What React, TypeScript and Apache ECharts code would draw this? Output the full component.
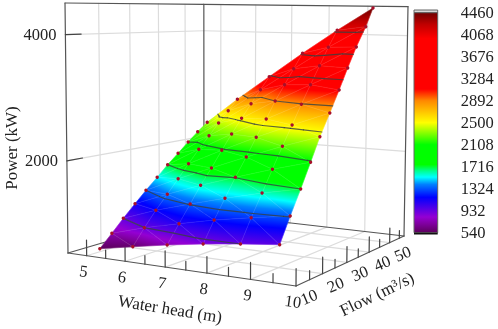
import React, { useEffect, useRef } from "react";
import * as echarts from "echarts";

// ---- data ----
const headGrid = [
  [4.82, 5.46, 6.60, 7.60, 8.45, 9.24],
  [4.83, 5.85, 6.80, 7.63, 8.44, 9.25],
  [4.84, 5.84, 6.79, 7.60, 8.41, 9.33],
  [4.85, 5.91, 6.77, 7.44, 8.42, 9.36],
  [4.92, 5.87, 6.76, 7.59, 8.41, 9.24],
  [5.01, 5.96, 6.83, 7.55, 8.37, 9.29],
  [5.10, 6.06, 6.68, 7.59, 8.51, 9.27],
  [5.30, 5.94, 6.62, 7.69, 8.45, 9.17],
  [5.49, 5.82, 6.64, 7.65, 8.37, 8.99],
  [5.00, 6.10, 7.20, 8.20, 9.05, 9.60],
  [5.00, 6.10, 7.20, 8.20, 9.05, 9.60],
];
const flowGrid = [
  [16.0, 18.9, 15.8, 14.3, 14.8, 16.5],
  [19.7, 17.9, 17.1, 17.6, 18.7, 20.2],
  [23.3, 21.8, 21.0, 21.8, 23.1, 22.8],
  [27.1, 24.8, 24.9, 27.9, 26.8, 26.1],
  [30.0, 29.1, 28.9, 29.7, 30.8, 31.9],
  [32.8, 31.6, 31.7, 34.1, 35.3, 35.1],
  [35.4, 34.0, 37.6, 37.4, 36.7, 39.4],
  [36.6, 39.5, 42.4, 39.4, 41.5, 45.0],
  [37.8, 44.9, 45.9, 43.9, 46.8, 52.3],
  [48.1, 44.7, 41.1, 38.6, 38.5, 44.9],
  [51.9, 48.4, 44.7, 42.3, 42.3, 48.2],
];
const powerGrid = [
  [540, 580, 750, 870, 932, 960],
  [736, 932, 1078, 1190, 1270, 1335],
  [932, 1157, 1335, 1470, 1590, 1716],
  [1128, 1385, 1585, 1722, 1920, 2090],
  [1324, 1590, 1822, 2040, 2245, 2430],
  [1520, 1820, 2090, 2320, 2550, 2785],
  [1716, 2045, 2305, 2600, 2885, 3130],
  [1912, 2225, 2535, 2892, 3180, 3465],
  [2108, 2400, 2767, 3143, 3476, 3795],
  [2182, 2630, 3057, 3451, 3824, 4161],
  [2325, 2810, 3263, 3696, 4096, 4470],
];
const headTicks = [5, 6, 7, 8, 9, 10];
const headMinor = [5.5, 6.5, 7.5, 8.5, 9.5];
const flowTicks = [10, 20, 30, 40, 50];
const flowMinor = [15, 25, 35, 45, 55];
const powerTicks = [2000, 4000];
const contourLevels = [932, 1324, 1716, 2108, 2500, 2892, 3284, 3676, 4068];
const colorbarLabels = ["540", "932", "1324", "1716", "2108", "2500", "2892", "3284", "3676", "4068", "4460"];
const rampValues = [540, 700, 820, 1170, 1400, 1530, 1640, 1755, 2108, 2500, 2892, 3100, 4000, 4250, 4460];
const rampColors = ["#5c005c", "#8000a0", "#9400d3", "#0000ff", "#0080ff", "#00ffff", "#00ff90", "#00ff00", "#00ff00", "#ffff00", "#ff8800", "#ff0000", "#ff0000", "#c00000", "#700000"];

// ---- axis ranges and camera ----
const hMin = 4.5, hMax = 10, qMin = 10, qMax = 57.5, zMin = 540, zMax = 4500;
const floorA = [68, 253], floorB = [296, 286], floorC = [404, 236], floorD = [204, 213];
const wallHeight = 250, tilt = 0.0208, tiltCentre = 212;
const SERIF = '"Liberation Serif", "Times New Roman", serif';
const FONT = `16.5px ${SERIF}`;
const TITLE_FONT = `17px ${SERIF}`;
const TEXT = "#222";

function homography(p0: number[], p1: number[], p2: number[], p3: number[]) {
  const dx1 = p1[0] - p2[0], dx2 = p3[0] - p2[0], sx = p0[0] - p1[0] + p2[0] - p3[0];
  const dy1 = p1[1] - p2[1], dy2 = p3[1] - p2[1], sy = p0[1] - p1[1] + p2[1] - p3[1];
  const den = dx1 * dy2 - dx2 * dy1;
  const g = (sx * dy2 - dx2 * sy) / den, h = (dx1 * sy - sx * dy1) / den;
  const a = p1[0] - p0[0] + g * p1[0], b = p3[0] - p0[0] + h * p3[0], c = p0[0];
  const d = p1[1] - p0[1] + g * p1[1], e = p3[1] - p0[1] + h * p3[1], f = p0[1];
  return (u: number, v: number) => {
    const k = g * u + h * v + 1;
    return [(a * u + b * v + c) / k, (d * u + e * v + f) / k, k];
  };
}
const floor = homography(floorA, floorB, floorC, floorD);
function project(head: number, flow: number, power: number) {
  const u = (head - hMin) / (hMax - hMin), v = (flow - qMin) / (qMax - qMin), w = (power - zMin) / (zMax - zMin);
  const f = floor(u, v);
  return [f[0] + w * tilt * (f[0] - tiltCentre), f[1] - (w * wallHeight) / f[2]];
}

function hexRgb(s: string) {
  return [parseInt(s.slice(1, 3), 16), parseInt(s.slice(3, 5), 16), parseInt(s.slice(5, 7), 16)];
}
function colorAt(v: number) {
  if (v <= rampValues[0]) return rampColors[0];
  for (let i = 1; i < rampValues.length; i++) {
    if (v <= rampValues[i]) {
      const t = (v - rampValues[i - 1]) / (rampValues[i] - rampValues[i - 1]);
      const a = hexRgb(rampColors[i - 1]), b = hexRgb(rampColors[i]);
      return `rgb(${a.map((x, k) => Math.round(x + (b[k] - x) * t)).join(",")})`;
    }
  }
  return rampColors[rampColors.length - 1];
}

// ---- derived mark lists ----
type L = number[];
const gridLines: L[] = [];
for (const q of flowTicks.slice(1)) {
  gridLines.push([hMin, q, zMin, hMin, q, zMax]);
  gridLines.push([hMin, q, zMin, hMax, q, zMin]);
}
for (const h of headTicks.slice(0, 5)) {
  gridLines.push([h, qMax, zMin, h, qMax, zMax]);
  gridLines.push([h, qMin, zMin, h, qMax, zMin]);
}
for (const z of powerTicks) {
  gridLines.push([hMin, qMin, z, hMin, qMax, z]);
  gridLines.push([hMin, qMax, z, hMax, qMax, z]);
}
const frameLines: L[] = [
  [hMin, qMin, zMax, hMin, qMax, zMax],
  [hMin, qMax, zMax, hMax, qMax, zMax],
  [hMin, qMin, zMin, hMin, qMin, zMax],
  [hMin, qMax, zMin, hMin, qMax, zMax],
  [hMax, qMax, zMin, hMax, qMax, zMax],
  [hMin, qMin, zMin, hMax, qMin, zMin],
  [hMax, qMin, zMin, hMax, qMax, zMin],
  [hMin, qMin, zMin, hMin, qMax, zMin],
  [hMin, qMax, zMin, hMax, qMax, zMin],
];
const tickLines: L[] = [
  ...headTicks.map((h) => [h, qMin, zMin, h, qMin, zMin + 245]),
  ...headMinor.map((h) => [h, qMin, zMin, h, qMin, zMin + 130]),
  ...flowTicks.slice(1).map((q) => [hMax, q, zMin, hMax, q, zMin + 245]),
  ...flowMinor.map((q) => [hMax, q, zMin, hMax, q, zMin + 130]),
  ...powerTicks.map((z) => [hMin, qMin, z, hMin, qMin + 4.6, z]),
];

const triangles: number[][] = [];
const meshLines: L[] = [];
const pt = (r: number, c: number) => [headGrid[r][c], flowGrid[r][c], powerGrid[r][c]];
for (let r = 0; r < headGrid.length; r++) {
  for (let c = 0; c < headGrid[r].length; c++) {
    if (c < 5) meshLines.push([...pt(r, c), ...pt(r, c + 1)]);
    if (r < 10) meshLines.push([...pt(r, c), ...pt(r + 1, c)]);
    if (r < 10 && c < 5) {
      meshLines.push([...pt(r, c + 1), ...pt(r + 1, c)]);
      triangles.push([...pt(r, c), ...pt(r, c + 1), ...pt(r + 1, c)]);
      triangles.push([...pt(r, c + 1), ...pt(r + 1, c + 1), ...pt(r + 1, c)]);
    }
  }
}
const contourLines: L[] = [];
for (const t of triangles) {
  const v = [t.slice(0, 3), t.slice(3, 6), t.slice(6, 9)];
  for (const lv of contourLevels) {
    const cross: number[][] = [];
    for (let i = 0; i < 3; i++) {
      const a = v[i], b = v[(i + 1) % 3];
      if (a[2] < lv !== b[2] < lv) {
        const s = (lv - a[2]) / (b[2] - a[2]);
        cross.push([a[0] + s * (b[0] - a[0]), a[1] + s * (b[1] - a[1]), lv]);
      }
    }
    if (cross.length === 2) contourLines.push([...cross[0], ...cross[1]]);
  }
}
const dots: number[][] = [];
headGrid.forEach((row, r) => row.forEach((_, c) => dots.push(pt(r, c))));

type Lab = { pos: number[]; dx: number; dy: number; text: string; rot: number; align: string };
const labels: Lab[] = [
  ...headTicks.map((h) => ({ pos: [h, qMin, zMin], dx: -3, dy: 15.5, text: String(h), rot: -0.14, align: "center" })),
  ...flowTicks.map((q) => ({ pos: [hMax, q, zMin], dx: 13, dy: 11, text: String(q), rot: 0.4, align: "center" })),
  ...powerTicks.map((z) => ({ pos: [hMin, qMin, z], dx: -9, dy: 0, text: String(z), rot: 0, align: "right" })),
];

function lineSeries(data: L[], stroke: string, lineWidth: number, z: number) {
  return {
    type: "custom", coordinateSystem: "none", silent: true, z, data, clip: false,
    renderItem: (_: any, api: any) => {
      const a = project(api.value(0), api.value(1), api.value(2));
      const b = project(api.value(3), api.value(4), api.value(5));
      return { type: "line", shape: { x1: a[0], y1: a[1], x2: b[0], y2: b[1] }, style: { stroke, lineWidth, lineCap: "round" } };
    },
  };
}

function triangleFill(p: number[][], V: number[]) {
  const det = (p[1][0] - p[0][0]) * (p[2][1] - p[0][1]) - (p[2][0] - p[0][0]) * (p[1][1] - p[0][1]);
  const gx = ((V[1] - V[0]) * (p[2][1] - p[0][1]) - (V[2] - V[0]) * (p[1][1] - p[0][1])) / det;
  const gy = ((p[1][0] - p[0][0]) * (V[2] - V[0]) - (p[2][0] - p[0][0]) * (V[1] - V[0])) / det;
  const vLo = Math.min(...V), vHi = Math.max(...V);
  const n = gx * gx + gy * gy;
  if (!isFinite(n) || n < 1e-9 || vHi - vLo < 1) return colorAt((vLo + vHi) / 2);
  const i0 = V.indexOf(vLo);
  const d = vHi - vLo;
  const colorStops = [{ offset: 0, color: colorAt(vLo) }];
  rampValues.forEach((rv) => {
    if (rv > vLo && rv < vHi) colorStops.push({ offset: (rv - vLo) / d, color: colorAt(rv) });
  });
  colorStops.push({ offset: 1, color: colorAt(vHi) });
  return { type: "linear", global: true, x: p[i0][0], y: p[i0][1], x2: p[i0][0] + (gx * d) / n, y2: p[i0][1] + (gy * d) / n, colorStops };
}

const barStops = rampValues.map((v, i) => ({ offset: (4460 - v) / (4460 - 540), color: rampColors[i] })).reverse();

export default function App() {
  const ref = useRef<HTMLDivElement>(null);
  useEffect(() => {
    const chart = echarts.init(ref.current!, null, { renderer: "svg" });
    const titleStyle = { font: TITLE_FONT, fill: TEXT, align: "center", verticalAlign: "middle" };
    chart.setOption({
      animation: false,
      backgroundColor: "#fff",
      grid: { left: 414, top: 12.7, width: 23.7, height: 220 },
      xAxis: { type: "value", show: false, min: 0, max: 1 },
      yAxis: {
        type: "category", position: "right", boundaryGap: false, data: colorbarLabels,
        axisLine: { show: false },
        axisTick: { length: 16.5, interval: 0, lineStyle: { color: "#555", width: 1.3 } },
        axisLabel: { interval: 0, margin: 23, fontFamily: SERIF, fontSize: 16.5, color: TEXT },
        splitLine: { show: false },
      },
      graphic: [
        { type: "text", x: 11, y: 148, rotation: Math.PI / 2, style: { text: "Power (kW)", ...titleStyle } },
        { type: "text", x: 170, y: 309, rotation: -0.16, style: { text: "Water head (m)", ...titleStyle } },
        { type: "text", x: 377, y: 294, rotation: 0.45, style: { text: "Flow (m\u00b3/s)", ...titleStyle } },
      ],
      series: [
        lineSeries(gridLines, "#dcdcdc", 1.2, 1),
        lineSeries(frameLines, "#555", 1.2, 2),
        lineSeries(tickLines, "#444", 1.2, 3),
        {
          type: "custom", coordinateSystem: "none", silent: true, z: 4, data: triangles,
          renderItem: (_: any, api: any) => {
            const p = [0, 3, 6].map((i) => project(api.value(i), api.value(i + 1), api.value(i + 2)));
            const fill = triangleFill(p, [api.value(2), api.value(5), api.value(8)]);
            return { type: "polygon", shape: { points: p }, style: { fill, stroke: fill, lineWidth: 0.6 } };
          },
        },
        lineSeries(meshLines, "rgba(255,255,255,0.13)", 0.7, 5),
        lineSeries(contourLines, "rgba(55,65,65,0.8)", 1.2, 6),
        {
          type: "custom", coordinateSystem: "none", silent: true, z: 7, data: dots,
          renderItem: (_: any, api: any) => {
            const p = project(api.value(0), api.value(1), api.value(2));
            return { type: "circle", shape: { cx: p[0], cy: p[1], r: 1.7 }, style: { fill: "#a8102a" } };
          },
        },
        {
          type: "custom", coordinateSystem: "none", silent: true, z: 8, data: labels.map((l) => l.pos),
          renderItem: (params: any, api: any) => {
            const l = labels[params.dataIndex];
            const p = project(api.value(0), api.value(1), api.value(2));
            return {
              type: "text", x: p[0] + l.dx, y: p[1] + l.dy, rotation: l.rot,
              style: { text: l.text, font: FONT, fill: TEXT, align: l.align, verticalAlign: "middle" },
            };
          },
        },
        {
          type: "custom", coordinateSystem: "cartesian2d", silent: true, z: 9, data: [[0, 0]],
          encode: { x: 0, y: 1 },
          renderItem: (params: any) => {
            const s = params.coordSys;
            return {
              type: "group",
              children: [
                { type: "rect", shape: { x: s.x, y: s.y - 2.7, width: s.width, height: 2.7 }, style: { fill: "#d8d8d8", stroke: "#666", lineWidth: 1 } },
                { type: "rect", shape: { x: s.x, y: s.y, width: s.width, height: s.height }, style: { fill: { type: "linear", x: 0, y: 0, x2: 0, y2: 1, colorStops: barStops }, stroke: "#666", lineWidth: 1 } },
                { type: "rect", shape: { x: s.x, y: s.y + s.height, width: s.width, height: 1.8 }, style: { fill: "#111" } },
              ],
            };
          },
        },
      ],
    });
    return () => chart.dispose();
  }, []);
  return <div ref={ref} style={{ position: "fixed", left: 0, top: 0, width: 498, height: 329, filter: "blur(0.35px)" }} />;
}
